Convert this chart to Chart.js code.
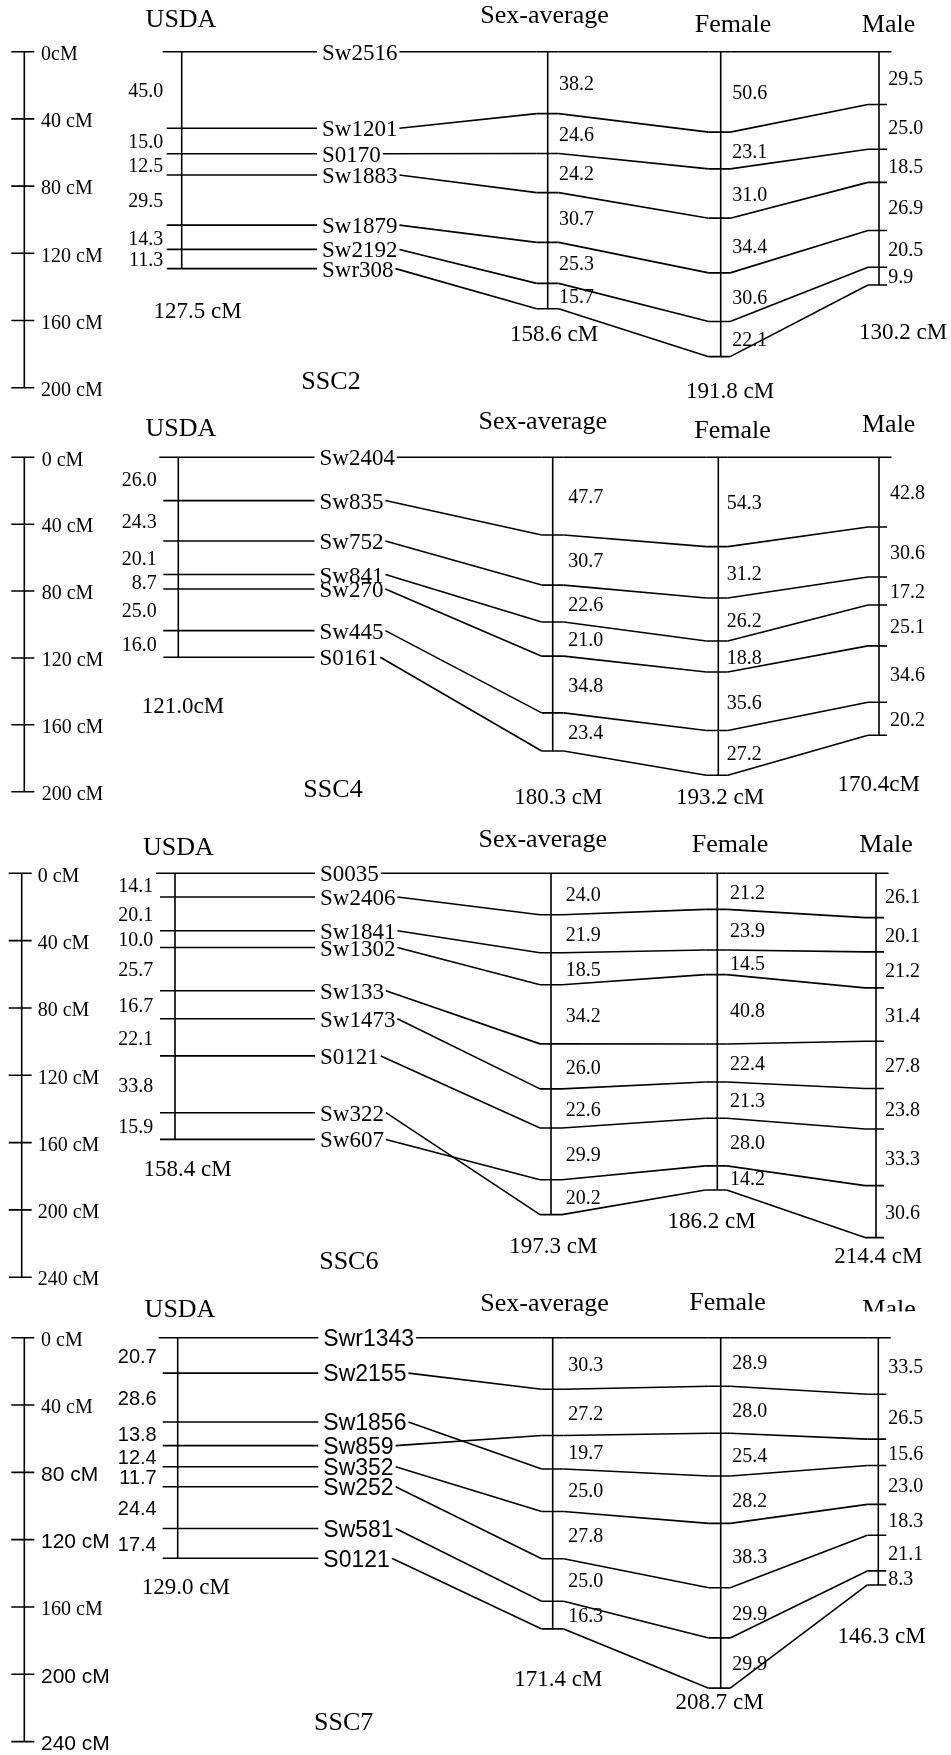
<!DOCTYPE html>
<html>
<head>
<meta charset="utf-8">
<title>Linkage maps SSC2, SSC4, SSC6, SSC7</title>
<script src="https://cdn.jsdelivr.net/npm/chart.js@4.4.1/dist/chart.umd.min.js"></script>
<style>
  html, body { margin: 0; padding: 0; background: #fff; overflow: hidden; }
  #mapChart { display: block; }
</style>
</head>
<body>
<canvas id="mapChart" width="951" height="1755"></canvas>
<script>
// column headings and chromosome names
const mapNames = ['USDA', 'Sex-average', 'Female', 'Male'];
const chromosomes = ['SSC2', 'SSC4', 'SSC6', 'SSC7'];

// SSC2 - markers in USDA order, intervals (cM) between neighbouring markers
const ssc2Markers = ['Sw2516', 'Sw1201', 'S0170', 'Sw1883', 'Sw1879', 'Sw2192', 'Swr308'];
const ssc2Order = [0, 1, 2, 3, 4, 5, 6]; // marker order on sex-average / female / male maps
const ssc2Usda = [45.0, 15.0, 12.5, 29.5, 14.3, 11.3];
const ssc2SexAvg = [38.2, 24.6, 24.2, 30.7, 25.3, 15.7];
const ssc2Female = [50.6, 23.1, 31.0, 34.4, 30.6, 22.1];
const ssc2Male = [29.5, 25.0, 18.5, 26.9, 20.5, 9.9];
const ssc2Totals = ['127.5 cM', '158.6 cM', '191.8 cM', '130.2 cM'];
const ssc2ScaleTicks = [0, 40, 80, 120, 160, 200];
const ssc2ScaleLabels = ['0cM', '40 cM', '80 cM', '120 cM', '160 cM', '200 cM'];

// SSC4
const ssc4Markers = ['Sw2404', 'Sw835', 'Sw752', 'Sw841', 'Sw270', 'Sw445', 'S0161'];
const ssc4Order = [0, 1, 2, 3, 4, 5, 6];
const ssc4Usda = [26.0, 24.3, 20.1, 8.7, 25.0, 16.0];
const ssc4SexAvg = [47.7, 30.7, 22.6, 21.0, 34.8, 23.4];
const ssc4Female = [54.3, 31.2, 26.2, 18.8, 35.6, 27.2];
const ssc4Male = [42.8, 30.6, 17.2, 25.1, 34.6, 20.2];
const ssc4Totals = ['121.0cM', '180.3 cM', '193.2 cM', '170.4cM'];
const ssc4ScaleTicks = [0, 40, 80, 120, 160, 200];
const ssc4ScaleLabels = ['0 cM', '40 cM', '80 cM', '120 cM', '160 cM', '200 cM'];

// SSC6
const ssc6Markers = ['S0035', 'Sw2406', 'Sw1841', 'Sw1302', 'Sw133', 'Sw1473', 'S0121', 'Sw322', 'Sw607'];
const ssc6Order = [0, 1, 2, 3, 4, 5, 6, 8, 7];
const ssc6Usda = [14.1, 20.1, 10.0, 25.7, 16.7, 22.1, 33.8, 15.9];
const ssc6SexAvg = [24.0, 21.9, 18.5, 34.2, 26.0, 22.6, 29.9, 20.2];
const ssc6Female = [21.2, 23.9, 14.5, 40.8, 22.4, 21.3, 28.0, 14.2];
const ssc6Male = [26.1, 20.1, 21.2, 31.4, 27.8, 23.8, 33.3, 30.6];
const ssc6Totals = ['158.4 cM', '197.3 cM', '186.2 cM', '214.4 cM'];
const ssc6ScaleTicks = [0, 40, 80, 120, 160, 200, 240];
const ssc6ScaleLabels = ['0 cM', '40 cM', '80 cM', '120 cM', '160 cM', '200 cM', '240 cM'];

// SSC7
const ssc7Markers = ['Swr1343', 'Sw2155', 'Sw1856', 'Sw859', 'Sw352', 'Sw252', 'Sw581', 'S0121'];
const ssc7Order = [0, 1, 3, 2, 4, 5, 6, 7];
const ssc7Usda = [20.7, 28.6, 13.8, 12.4, 11.7, 24.4, 17.4];
const ssc7SexAvg = [30.3, 27.2, 19.7, 25.0, 27.8, 25.0, 16.3];
const ssc7Female = [28.9, 28.0, 25.4, 28.2, 38.3, 29.9, 29.9];
const ssc7Male = [33.5, 26.5, 15.6, 23.0, 18.3, 21.1, 8.3];
const ssc7Totals = ['129.0 cM', '171.4 cM', '208.7 cM', '146.3 cM'];
const ssc7ScaleTicks = [0, 40, 80, 120, 160, 200, 240];
const ssc7ScaleLabels = ['0 cM', '40 cM', '80 cM', '120 cM', '160 cM', '200 cM', '240 cM'];

const W = 951, H = 1755;
const SERIF = '"Liberation Serif", "Times New Roman", serif';
const SANS = '"Liberation Sans", Arial, sans-serif';

// where each panel sits on the page; k = pixels per cM of each drawn map
const layouts = [
  { top: 51.7, k: { bar: 1.68, U: 1.70, S: 1.62, F: 1.59, M: 1.79 },
    x: { bar: 24.3, U: 181.7, S: 547.7, F: 720.7, M: 879 },
    labelX: 322, intRight: 163.3, scaleLabelX: 41, lab: { S: 559, F: 732.3, M: 888.3 },
    heads: [[181, 27.3], [544.5, 22.7], [733, 31.7], [888.5, 31.7]],
    totals: [[197.7, 311.7], [554, 335], [730, 391.7], [903, 333.3]], title: [331, 381.7] },
  { top: 457.3, k: { bar: 1.672, U: 1.665, S: 1.63, F: 1.645, M: 1.63 },
    x: { bar: 24.3, U: 178.3, S: 552.7, F: 718.3, M: 879 },
    labelX: 319.5, intRight: 156.7, scaleLabelX: 41.7, lab: { S: 568.3, F: 726.7, M: 890 },
    heads: [[180.8, 435.7], [542.7, 429.3], [732.5, 438.3], [888.7, 431.7]],
    totals: [[183, 707.3], [558.3, 798.3], [720, 798.3], [878.8, 785]], title: [333, 790] },
  { top: 873.3, k: { bar: 1.683, U: 1.68, S: 1.73, F: 1.70, M: 1.70 },
    x: { bar: 21.7, U: 175, S: 551, F: 717.3, M: 876 },
    labelX: 320, intRight: 153.3, scaleLabelX: 37.7, lab: { S: 565.7, F: 730, M: 885 },
    heads: [[178.3, 855], [542.7, 847.3], [730, 851.7], [886, 851.7]],
    totals: [[187.5, 1170], [553.3, 1246.7], [711.7, 1221.7], [878.3, 1256.7]], title: [348.8, 1261.7] },
  { top: 1337.7, k: { bar: 1.683, U: 1.71, S: 1.70, F: 1.68, M: 1.69 },
    x: { bar: 24.3, U: 177.7, S: 552.7, F: 720.7, M: 878.3 },
    labelX: 323.3, intRight: 156.7, scaleLabelX: 41, lab: { S: 568.3, F: 732.3, M: 888.3 },
    heads: [[180, 1317.3], [544.5, 1310.7], [727.5, 1310], [889, 1316.7]], maleClip: 1311.5,
    totals: [[185.8, 1588.3], [558.3, 1680], [719.5, 1703.3], [881.7, 1636.7]], title: [343.7, 1723.3],
    sans: true, scaleSans: [false, false, true, true, false, true, true] }
];

const panels = [
  { markers: ssc2Markers, order: ssc2Order, usda: ssc2Usda, sexAvg: ssc2SexAvg, female: ssc2Female, male: ssc2Male, totals: ssc2Totals, ticks: ssc2ScaleTicks, tickLabels: ssc2ScaleLabels },
  { markers: ssc4Markers, order: ssc4Order, usda: ssc4Usda, sexAvg: ssc4SexAvg, female: ssc4Female, male: ssc4Male, totals: ssc4Totals, ticks: ssc4ScaleTicks, tickLabels: ssc4ScaleLabels },
  { markers: ssc6Markers, order: ssc6Order, usda: ssc6Usda, sexAvg: ssc6SexAvg, female: ssc6Female, male: ssc6Male, totals: ssc6Totals, ticks: ssc6ScaleTicks, tickLabels: ssc6ScaleLabels },
  { markers: ssc7Markers, order: ssc7Order, usda: ssc7Usda, sexAvg: ssc7SexAvg, female: ssc7Female, male: ssc7Male, totals: ssc7Totals, ticks: ssc7ScaleTicks, tickLabels: ssc7ScaleLabels }
];
panels.forEach((p, i) => { p.layout = layouts[i]; });

// intervals -> marker positions from the top of the map
function cumulative(intervals) {
  const out = [0];
  intervals.forEach(v => out.push(out[out.length - 1] + v));
  return out;
}

// list of [[x1, cM1], [x2, cM2]] -> one line dataset with gaps between pieces
function segDataset(list, yAxisID) {
  const data = [];
  list.forEach(([a, b]) => {
    data.push({ x: a[0], y: a[1] }, { x: b[0], y: b[1] }, { x: b[0], y: null });
  });
  return {
    data, yAxisID, xAxisID: 'x',
    borderColor: '#000', borderWidth: 1.6, pointRadius: 0,
    spanGaps: false, tension: 0, fill: false
  };
}

const datasets = [];
const scales = {
  x: { type: 'linear', min: 0, max: W, display: false, bounds: 'data' },
  page: { type: 'linear', axis: 'y', position: 'left', min: 0, max: H, reverse: true, display: false, bounds: 'data' }
};

panels.forEach((p, pi) => {
  const L = p.layout;
  ['bar', 'U', 'S', 'F', 'M'].forEach(c => {
    const k = L.k[c];
    scales['p' + pi + c] = {
      type: 'linear', axis: 'y', position: 'left', display: false, reverse: true, bounds: 'data',
      min: -L.top / k, max: (H - L.top) / k
    };
  });

  // scale bar
  const bar = p.ticks.map(t => [[L.x.bar - 13, t], [L.x.bar + 10, t]]);
  bar.push([[L.x.bar, p.ticks[0]], [L.x.bar, p.ticks[p.ticks.length - 1]]]);
  datasets.push(segDataset(bar, 'p' + pi + 'bar'));

  // USDA map with marker lines running to the names
  const uPos = cumulative(p.usda);
  const u = [[[L.x.U, 0], [L.x.U, uPos[uPos.length - 1]]]];
  uPos.forEach((c, i) => u.push([[L.x.U - (i === 0 ? 19 : 15), c], [L.labelX - 5, c]]));
  datasets.push(segDataset(u, 'p' + pi + 'U'));

  // sex-average, female, male maps with their marker ticks
  [['S', p.sexAvg, 11, 11], ['F', p.female, 12, 9.5], ['M', p.male, 11, 8]].forEach(([c, vals, left, right]) => {
    const pos = cumulative(vals);
    const list = [[[L.x[c], 0], [L.x[c], pos[pos.length - 1]]]];
    pos.forEach((v, i) => {
      const r = (c === 'M' && i === 0) ? 12.5 : right;
      list.push([[L.x[c] - left, v], [L.x[c] + r, v]]);
    });
    datasets.push(segDataset(list, 'p' + pi + c));
  });
});

// names, interval values, totals and the lines joining the maps
const linkagePlugin = {
  id: 'linkage',
  afterDatasetsDraw(chart) {
    const ctx = chart.ctx;
    const X = v => chart.scales.x.getPixelForValue(v);
    const Y = v => chart.scales.page.getPixelForValue(v);
    const seg = (x1, y1, x2, y2) => { ctx.beginPath(); ctx.moveTo(x1, y1); ctx.lineTo(x2, y2); ctx.stroke(); };
    const txt = (s, x, y, font, align, base) => {
      ctx.font = font; ctx.textAlign = align; ctx.textBaseline = base; ctx.fillText(s, x, y);
    };
    ctx.save();
    ctx.fillStyle = '#000';
    ctx.strokeStyle = '#000';
    ctx.lineWidth = 1.6;

    panels.forEach((p, pi) => {
      const L = p.layout;
      const sc = c => chart.scales['p' + pi + c];
      const yBar = sc('bar'), yU = sc('U'), yS = sc('S'), yF = sc('F'), yM = sc('M');
      const uPos = cumulative(p.usda), sPos = cumulative(p.sexAvg);
      const fPos = cumulative(p.female), mPos = cumulative(p.male);
      const markerFont = '23px ' + (L.sans ? SANS : SERIF);
      const usdaIntFont = '20px ' + (L.sans ? SANS : SERIF);
      const intFont = '20px ' + SERIF;

      // scale bar labels
      p.ticks.forEach((t, i) => {
        const sans = L.scaleSans && L.scaleSans[i];
        txt(p.tickLabels[i], X(L.scaleLabelX), yBar.getPixelForValue(t) + 3, (sans ? '21px ' + SANS : '20px ' + SERIF), 'left', 'middle');
      });

      // headings
      mapNames.forEach((name, i) => {
        const [hx, hy] = L.heads[i];
        if (i === 3 && L.maleClip) {
          ctx.save();
          ctx.beginPath(); ctx.rect(0, 0, W, Y(L.maleClip)); ctx.clip();
          txt(name, X(hx), Y(hy), '26px ' + SERIF, 'center', 'alphabetic');
          ctx.restore();
        } else {
          txt(name, X(hx), Y(hy), '26px ' + SERIF, 'center', 'alphabetic');
        }
      });

      // marker names and USDA -> sex-average lines
      p.markers.forEach((name, i) => {
        const j = p.order.indexOf(i);
        const y = yU.getPixelForValue(uPos[i]);
        ctx.font = markerFont;
        const w = ctx.measureText(name).width;
        txt(name, X(L.labelX), y + 2, markerFont, 'left', 'middle');
        seg(X(L.labelX) + w + 2, y, X(L.x.S - 11), yS.getPixelForValue(sPos[j]));
      });

      // sex-average -> female -> male
      sPos.forEach((v, j) => {
        seg(X(L.x.S + 11), yS.getPixelForValue(v), X(L.x.F - 12), yF.getPixelForValue(fPos[j]));
        seg(X(L.x.F + 9.5), yF.getPixelForValue(fPos[j]), X(L.x.M - 11), yM.getPixelForValue(mPos[j]));
      });

      // interval values
      p.usda.forEach((v, i) => {
        const y = (yU.getPixelForValue(uPos[i]) + yU.getPixelForValue(uPos[i + 1])) / 2 + 2;
        txt(v.toFixed(1), X(L.intRight), y, usdaIntFont, 'right', 'middle');
      });
      [[p.sexAvg, sPos, yS, 'S'], [p.female, fPos, yF, 'F'], [p.male, mPos, yM, 'M']].forEach(([vals, pos, s, c]) => {
        vals.forEach((v, i) => {
          const y = (s.getPixelForValue(pos[i]) + s.getPixelForValue(pos[i + 1])) / 2 + 2;
          txt(v.toFixed(1), X(L.lab[c]), y, intFont, 'left', 'middle');
        });
      });

      // map lengths and chromosome name
      p.totals.forEach((t, i) => {
        txt(t, X(L.totals[i][0]), Y(L.totals[i][1]), '23px ' + SERIF, 'center', 'middle');
      });
      txt(chromosomes[pi], X(L.title[0]), Y(L.title[1]), '26px ' + SERIF, 'center', 'middle');
    });
    ctx.restore();
  }
};

new Chart(document.getElementById('mapChart'), {
  type: 'line',
  data: { datasets },
  options: {
    responsive: false,
    animation: false,
    events: [],
    layout: { padding: 0 },
    scales,
    plugins: { legend: { display: false }, tooltip: { enabled: false } }
  },
  plugins: [linkagePlugin]
});
</script>
</body>
</html>
